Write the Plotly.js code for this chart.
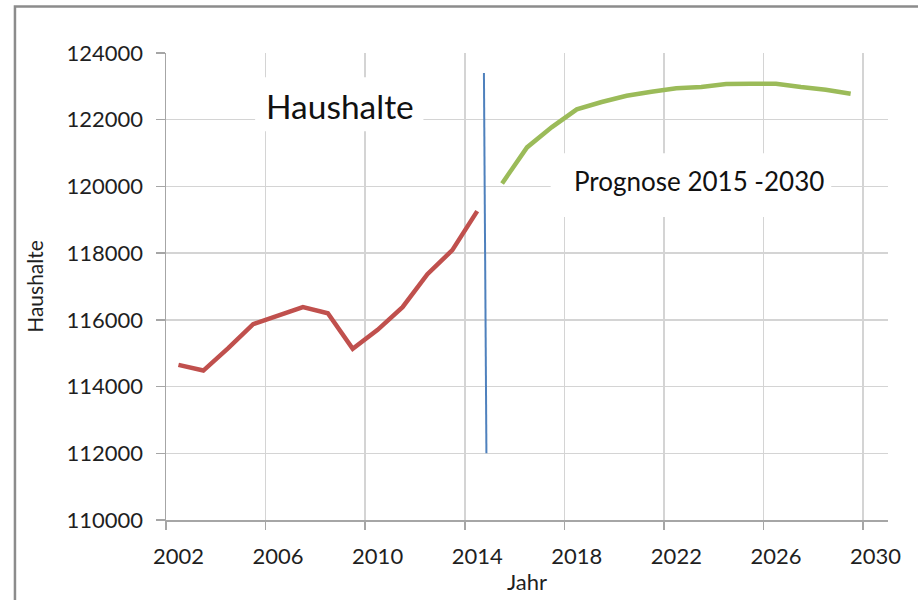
<!DOCTYPE html>
<html>
<head>
<meta charset="utf-8">
<script src="https://cdn.plot.ly/plotly-3.0.1.min.js"></script>
<style>html,body{margin:0;padding:0;background:#fff;}</style>
</head>
<body>
<div id="chart" style="width:918px;height:600px;"></div>
<script>
// Historical households (2002-2014)
var histYears = [2002, 2003, 2004, 2005, 2006, 2007, 2008, 2009, 2010, 2011, 2012, 2013, 2014];
var histValues = [114650, 114480, 115150, 115870, 116130, 116380, 116200, 115130, 115700, 116380, 117370, 118090, 119260];
// Forecast 2015-2029
var progYears = [2015, 2016, 2017, 2018, 2019, 2020, 2021, 2022, 2023, 2024, 2025, 2026, 2027, 2028, 2029];
var progValues = [120090, 121170, 121780, 122310, 122530, 122720, 122840, 122940, 122980, 123070, 123080, 123080, 122980, 122900, 122780];
// Divider line
var divX = [2014.27, 2014.37];
var divY = [123400, 112000];
// Axis ticks
var xTickVals = [2002, 2006, 2010, 2014, 2018, 2022, 2026, 2030];
var xTickText = ['2002', '2006', '2010', '2014', '2018', '2022', '2026', '2030'];
var yTickVals = [110000, 112000, 114000, 116000, 118000, 120000, 122000, 124000];
var yTickText = ['110000', '112000', '114000', '116000', '118000', '120000', '122000', '124000'];

var FONT = 'Lato, "Open Sans", sans-serif';
var TXT = '#1f1f1f';
var GRID = '#d4d4d4';
var AXIS = '#a6a6a6';

var traces = [
  {x: histYears, y: histValues, type: 'scatter', mode: 'lines',
   line: {color: '#c0504d', width: 4.5}, hoverinfo: 'x+y'},
  {x: progYears, y: progValues, type: 'scatter', mode: 'lines',
   line: {color: '#9bbb59', width: 4.5}, hoverinfo: 'x+y'},
  {x: divX, y: divY, type: 'scatter', mode: 'lines',
   line: {color: '#4f81bd', width: 2}, hoverinfo: 'none'}
];

var layout = {
  width: 918, height: 600,
  margin: {l: 166, r: 30, t: 53, b: 80},
  paper_bgcolor: '#fff', plot_bgcolor: '#fff',
  showlegend: false,
  font: {family: FONT, color: TXT},
  xaxis: {
    range: [2001.5, 2030.5],
    tickmode: 'array', tickvals: xTickVals, ticktext: xTickText,
    showgrid: false, zeroline: false, ticks: '',
    showline: true, linecolor: AXIS, linewidth: 1.5,
    tickfont: {family: FONT, size: 22, color: TXT},
    ticklabelstandoff: 16,
    minor: {tickmode: 'linear', tick0: 2001.5, dtick: 4, showgrid: true,
            gridcolor: GRID, gridwidth: 1.5, ticks: 'outside', ticklen: 8,
            tickcolor: AXIS, tickwidth: 1.5},
    title: {text: 'Jahr', font: {family: FONT, size: 22, color: TXT}, standoff: 6}
  },
  yaxis: {
    range: [110000, 124000],
    tickmode: 'array', tickvals: yTickVals, ticktext: yTickText,
    showgrid: true, gridcolor: GRID, gridwidth: 1.5, zeroline: false,
    ticks: 'outside', ticklen: 9, tickcolor: AXIS, tickwidth: 1.5,
    showline: true, linecolor: AXIS, linewidth: 1.5,
    tickfont: {family: FONT, size: 22, color: TXT},
    ticklabelstandoff: 8,
    title: {text: 'Haushalte', font: {family: FONT, size: 21, color: TXT}, standoff: 17}
  },
  shapes: [
    // outer chart border
    {type: 'rect', xref: 'paper', yref: 'paper', x0: -0.2092, x1: 1.2, y0: -0.5, y1: 1.0998,
     line: {color: '#8c8c8c', width: 2.5}, fillcolor: 'rgba(0,0,0,0)', layer: 'below'},
    // white text boxes
    {type: 'rect', xref: 'x', yref: 'y', x0: 2005.08, x1: 2011.84, y0: 121656, y1: 123273,
     line: {width: 0}, fillcolor: '#fff', layer: 'between'},
    {type: 'rect', xref: 'x', yref: 'y', x0: 2016.95, x1: 2028.22, y0: 119081, y1: 120997,
     line: {width: 0}, fillcolor: '#fff', layer: 'between'}
  ],
  annotations: [
    {text: 'Haushalte', x: 2008.48, y: 122400, xref: 'x', yref: 'y',
     showarrow: false, xanchor: 'center', yanchor: 'middle',
     font: {family: FONT, size: 33.5, color: '#111'}},
    {text: 'Prognose 2015 -2030', x: 2022.9, y: 120150, xref: 'x', yref: 'y',
     showarrow: false, xanchor: 'center', yanchor: 'middle',
     font: {family: FONT, size: 26, color: '#111'}}
  ]
};

Plotly.newPlot('chart', traces, layout, {displayModeBar: false, staticPlot: true});
</script>
</body>
</html>
